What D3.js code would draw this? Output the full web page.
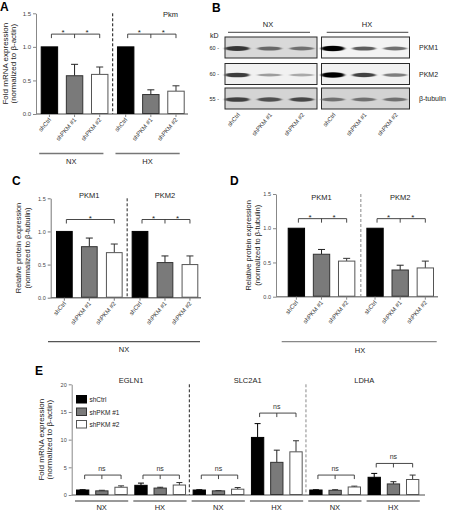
<!DOCTYPE html>
<html><head><meta charset="utf-8">
<script src="https://cdn.jsdelivr.net/npm/d3@7"></script>
<style>body{margin:0;background:#fff}svg{display:block}</style>
</head><body><svg id="c" width="450" height="512"></svg>
<script>
// ---------- DATA ----------
const conditions = ["shCtrl", "shPKM #1", "shPKM #2"];

// Panel A: Pkm mRNA
const aGroups = ["NX", "HX"];
const aMean = [[1.0, 0.57, 0.59], [1.0, 0.29, 0.34]];
const aErr  = [[0, 0.17, 0.11], [0, 0.07, 0.08]];
const aTicks = [0, 0.5, 1.0, 1.5];
const aSig = [{level: 1.19, type: "pair", text: "*"}, {level: 1.19, type: "pair", text: "*"}];

// Panel B: western blot band intensities (lanes shCtrl, shPKM #1, shPKM #2)
const blotRows = ["PKM1", "PKM2", "β-tubulin"];
const blotKD = ["60 -", "60 -", "55 -"];
const blotNX = [[0.75, 0.5, 0.45], [0.72, 0.22, 0.16], [0.7, 0.62, 0.66]];
const blotHX = [[1.0, 0.55, 0.45], [1.0, 0.68, 0.38], [0.45, 0.45, 0.45]];

// Panel C: protein NX
const cGroups = ["PKM1", "PKM2"];
const cMean = [[1.0, 0.77, 0.68], [1.0, 0.53, 0.50]];
const cErr  = [[0, 0.13, 0.13], [0, 0.10, 0.13]];
const cTicks = [0, 0.5, 1.0, 1.5];
const cSig = [{level: 1.18, type: "span", text: "*"}, {level: 1.18, type: "pair", text: "*"}];

// Panel D: protein HX
const dGroups = ["PKM1", "PKM2"];
const dMean = [[1.0, 0.62, 0.52], [1.0, 0.39, 0.42]];
const dErr  = [[0, 0.07, 0.04], [0, 0.07, 0.10]];
const dTicks = [0, 0.5, 1.0, 1.5];
const dSig = [{level: 1.14, type: "pair", text: "*"}, {level: 1.14, type: "pair", text: "*"}];

// Panel E: target genes mRNA
const eGenes = ["EGLN1", "SLC2A1", "LDHA"];
const eConds = ["NX", "HX"];
const eMean = [[0.9, 0.75, 1.4], [1.75, 1.25, 1.8], [0.9, 0.75, 1.05],
               [10.4, 5.9, 7.8], [0.9, 0.85, 1.45], [3.2, 2.0, 2.8]];
const eErr  = [[0.05, 0.1, 0.25], [0.4, 0.15, 0.45], [0.05, 0.05, 0.3],
               [2.5, 2.2, 2.0], [0.05, 0.1, 0.15], [0.7, 0.4, 0.8]];
const eTicks = [0, 5, 10, 15, 20];
const eSig = [3.6, 3.6, 3.6, 14.8, 3.6, 5.7];

// ---------- STYLE ----------
const FONT = '"Liberation Sans", Arial, Helvetica, sans-serif';
const fills = ["#000000", "#7a7a7a", "#ffffff"];
const strokes = ["#000000", "#333333", "#555555"];
const errCol = ["#000000", "#222222", "#333333"];

const svg = d3.select("#c");
svg.append("rect").attr("width", 450).attr("height", 512).attr("fill", "#fff");
const defs = svg.append("defs");
defs.append("filter").attr("id", "blur").attr("x", "-30%").attr("y", "-100%").attr("width", "160%").attr("height", "300%")
  .append("feGaussianBlur").attr("stdDeviation", "1.6 0.7");

function txt(s, x, y, size, opts = {}) {
  const t = svg.append("text").attr("x", x).attr("y", y).text(s)
    .attr("font-family", FONT).attr("font-size", size).attr("fill", opts.fill || "#222")
    .attr("text-anchor", opts.anchor || "start");
  if (opts.bold) t.attr("font-weight", "bold");
  if (opts.rotate !== undefined) t.attr("transform", `rotate(${opts.rotate},${x},${y})`);
  return t;
}

function barPanel(c) {
  const g = svg.append("g");
  const y = d3.scaleLinear().domain([0, c.max]).range([c.yb, c.yt]);
  const xo = d3.scaleBand().domain(c.groups).range(c.gRange).paddingInner(c.gPad);
  const xi = d3.scaleBand().domain(conditions).range([0, xo.bandwidth()]).paddingInner(c.bPad);
  const ax = g.append("g").attr("transform", `translate(${c.ax},0)`)
    .call(d3.axisLeft(y).tickValues(c.ticks).tickFormat(c.fmt).tickSize(3).tickPadding(2).tickSizeOuter(0));
  ax.select(".domain").attr("stroke", c.axisColor).attr("stroke-width", 1);
  ax.selectAll(".tick line").attr("stroke", c.axisColor);
  ax.selectAll(".tick text").attr("font-size", c.tickFont).attr("fill", "#444").attr("font-family", FONT);
  g.append("line").attr("x1", c.ax).attr("x2", c.axEnd).attr("y1", y(0)).attr("y2", y(0))
    .attr("stroke", c.axisColor).attr("stroke-width", 1.5);

  const centers = [];
  c.groups.forEach((grp, gi) => {
    const gx = xo(grp);
    const cs = [];
    conditions.forEach((cond, ci) => {
      const bw = xi.bandwidth(), bx = gx + xi(cond), v = c.means[gi][ci], e = c.errs[gi][ci];
      const cx = bx + bw / 2;
      cs.push(cx);
      if (e > 0) {
        g.append("line").attr("x1", cx).attr("x2", cx).attr("y1", y(v)).attr("y2", y(v + e))
          .attr("stroke", errCol[ci]).attr("stroke-width", 1);
        g.append("line").attr("x1", cx - c.cap).attr("x2", cx + c.cap).attr("y1", y(v + e)).attr("y2", y(v + e))
          .attr("stroke", errCol[ci]).attr("stroke-width", 1);
      }
      g.append("rect").attr("x", bx + 0.5).attr("y", y(v)).attr("width", bw - 1).attr("height", y(0) - y(v) - 0.5)
        .attr("fill", fills[ci]).attr("stroke", strokes[ci]).attr("stroke-width", 1);
      if (c.xticks) g.append("line").attr("x1", cx).attr("x2", cx).attr("y1", y(0)).attr("y2", y(0) + 3)
        .attr("stroke", c.axisColor).attr("stroke-width", 1);
      if (c.xlabels) txt(cond, cx + 2, y(0) + 6, c.xFont, {anchor: "end", rotate: -50, fill: "#333"});
    });
    centers.push(cs);
    // significance bracket
    const s = c.sig[gi];
    const by = y(s.level), x1 = cs[0] + 2, x2 = cs[2], xm = cs[1];
    const br = g.append("path").attr("fill", "none").attr("stroke", "#333").attr("stroke-width", 0.9);
    if (s.type === "span") {
      br.attr("d", `M${x1},${by + 4}V${by}H${x2}V${by + 4}`);
      txt(s.text, (x1 + x2) / 2, by + 1, c.starFont, {anchor: "middle"});
    } else {
      br.attr("d", `M${x1},${by + 4}V${by}H${x2}V${by + 4}M${xm},${by}V${by + 4}`);
      if (s.type === "pair") {
        txt(s.text, (x1 + xm) / 2, by + 1, c.starFont, {anchor: "middle"});
        txt(s.text, (xm + x2) / 2, by + 1, c.starFont, {anchor: "middle"});
      } else {
        txt(s.text, xm, by - 4, c.nsFont, {anchor: "middle", fill: "#333"});
      }
    }
    if (c.groupLine) {
      const [l0, l1] = c.groupLine(gx, xo.bandwidth());
      g.append("line").attr("x1", l0).attr("x2", l1).attr("y1", c.glY).attr("y2", c.glY)
        .attr("stroke", "#777").attr("stroke-width", 1.3);
      txt(c.groupNames[gi], (l0 + l1) / 2, c.glY + c.glOff, 7.5, {anchor: "middle"});
    }
  });
  // dividers
  (c.dividers || []).forEach(d => {
    const xl = (xo(c.groups[d.after]) + xo.bandwidth() + xo(c.groups[d.after + 1])) / 2;
    g.append("line").attr("x1", xl).attr("x2", xl).attr("y1", y(c.max)).attr("y2", y(0))
      .attr("stroke", d.color).attr("stroke-width", 1).attr("stroke-dasharray", "3,2");
  });
  // y label
  const my = (c.yb + c.yt) / 2;
  txt(c.ylab[0], c.ylx[0], my, c.ylFont, {anchor: "middle", rotate: -90});
  txt(c.ylab[1], c.ylx[1], my, c.ylFont, {anchor: "middle", rotate: -90});
  return {y, xo, xi, centers};
}

// ---------- PANEL A ----------
const A = barPanel({
  max: 1.5, yb: 114, yt: 13.3, ticks: aTicks, fmt: d3.format(".1f"),
  groups: aGroups, means: aMean, errs: aErr, sig: aSig,
  gRange: [40.7, 184.7], gPad: 0.112, bPad: 0.307,
  ax: 36, axEnd: 188, axisColor: "#888", tickFont: 6, xFont: 6, starFont: 8, cap: 3.5,
  xticks: true, xlabels: true,
  dividers: [{after: 0, color: "#111"}],
  groupLine: (gx, bw) => [gx - 1.5, gx + bw - 5], glY: 153.5, glOff: 10, groupNames: aGroups,
  ylab: ["Fold mRNA expression", "(normalized to β-actin)"], ylx: [8.5, 16.5], ylFont: 8
});
txt("A", 0, 11, 12, {bold: true, fill: "#000"});
txt("Pkm", 163, 17, 7.5);

// ---------- PANEL B ----------
txt("B", 212, 12, 12, {bold: true, fill: "#000"});
txt("kD", 210, 38, 7);
const rowY = [[37, 58], [63.5, 84.5], [88, 109]];
const bgNX = ["#d9d9d9", "#f1f1f1", "#d4d4d4"];
const bgHX = ["#f3f3f3", "#f1f1f1", "#d3d3d3"];
function blot(x0, x1, vals, bgs, lane0, lane1) {
  const lx = d3.scaleBand().domain(conditions).range([lane0, lane1]).paddingInner(0.3);
  const col = d3.scaleLinear().domain([0, 1]).range(["#c8c8c8", "#050505"]);
  blotRows.forEach((r, ri) => {
    const [ya, yb] = rowY[ri];
    svg.append("rect").attr("x", x0).attr("y", ya).attr("width", x1 - x0).attr("height", yb - ya)
      .attr("fill", bgs[ri]).attr("stroke", "#2a2a2a").attr("stroke-width", 1);
    conditions.forEach((cnd, ci) => {
      const v = vals[ri][ci];
      svg.append("ellipse").attr("cx", lx(cnd) + lx.bandwidth() / 2).attr("cy", (ya + yb) / 2 + 1)
        .attr("rx", lx.bandwidth() / 2 + 1).attr("ry", 1.2 + 1.6 * v)
        .attr("fill", col(v)).attr("filter", "url(#blur)");
    });
  });
  conditions.forEach(cnd => {
    txt(cnd, lx(cnd) + lx.bandwidth() / 2 + 3, 115, 6, {anchor: "end", rotate: -50, fill: "#333"});
  });
}
blot(225, 317, blotNX, bgNX, 226, 313);
blot(321.5, 409.5, blotHX, bgHX, 322, 406);
blotKD.forEach((k, i) => txt(k, 219, (rowY[i][0] + rowY[i][1]) / 2 + 2, 5.5, {anchor: "end"}));
blotRows.forEach((r, i) => txt(r, 419, (rowY[i][0] + rowY[i][1]) / 2 + 2.5, 7));
svg.append("line").attr("x1", 228).attr("x2", 310).attr("y1", 32.3).attr("y2", 32.3).attr("stroke", "#444").attr("stroke-width", 1);
svg.append("line").attr("x1", 326.7).attr("x2", 408.3).attr("y1", 32.3).attr("y2", 32.3).attr("stroke", "#444").attr("stroke-width", 1);
txt("NX", 268, 27, 7.5, {anchor: "middle"});
txt("HX", 367, 27, 7.5, {anchor: "middle"});

// ---------- PANEL C ----------
const C = barPanel({
  max: 1.5, yb: 297.7, yt: 198.3, ticks: cTicks, fmt: d3.format(".1f"),
  groups: cGroups, means: cMean, errs: cErr, sig: cSig,
  gRange: [56, 198.3], gPad: 0.119, bPad: 0.33,
  ax: 50.7, axEnd: 201, axisColor: "#777", tickFont: 5.5, xFont: 6, starFont: 8, cap: 3.5,
  xticks: true, xlabels: true,
  dividers: [{after: 0, color: "#222"}],
  ylab: ["Relative protein expression", "(normalized to β-tubulin)"], ylx: [20.5, 30], ylFont: 7.5
});
txt("C", 12, 185, 12, {bold: true, fill: "#000"});
cGroups.forEach((gname) => txt(gname, C.xo(gname) + C.xo.bandwidth() / 2, 197.5, 7.5, {anchor: "middle"}));
svg.append("line").attr("x1", 48).attr("x2", 200).attr("y1", 341.7).attr("y2", 341.7).attr("stroke", "#555").attr("stroke-width", 1.2);
txt("NX", 124, 352, 7.5, {anchor: "middle"});

// ---------- PANEL D ----------
const D = barPanel({
  max: 1.5, yb: 296.7, yt: 194, ticks: dTicks, fmt: d3.format(".1f"),
  groups: dGroups, means: dMean, errs: dErr, sig: dSig,
  gRange: [287.7, 434], gPad: 0.14, bPad: 0.31,
  ax: 276, axEnd: 438, axisColor: "#888", tickFont: 5.5, xFont: 6, starFont: 8, cap: 3.5,
  xticks: true, xlabels: true,
  dividers: [{after: 0, color: "#888"}],
  ylab: ["Relative protein expression", "(normalized to β-tubulin)"], ylx: [251.5, 260], ylFont: 7.5
});
txt("D", 230, 185, 12, {bold: true, fill: "#000"});
dGroups.forEach((gname) => txt(gname, D.xo(gname) + D.xo.bandwidth() / 2, 200, 7.5, {anchor: "middle"}));
svg.append("line").attr("x1", 281.7).attr("x2", 436.7).attr("y1", 341.7).attr("y2", 341.7).attr("stroke", "#888").attr("stroke-width", 1.2);
txt("HX", 360, 352.5, 7.5, {anchor: "middle"});

// ---------- PANEL E ----------
const eKeys = [];
eGenes.forEach(gn => eConds.forEach(cd => eKeys.push(gn + "|" + cd)));
const eGroupNames = eKeys.map(k => k.split("|")[1]);
const E = barPanel({
  max: 20, yb: 495, yt: 384.3, ticks: eTicks, fmt: d3.format("d"),
  groups: eKeys, means: eMean, errs: eErr,
  sig: eSig.map(l => ({level: l, type: "ns", text: "ns"})),
  gRange: [76, 419.3], gPad: 0.113, bPad: 0.307,
  ax: 71.7, axEnd: 425, axisColor: "#888", tickFont: 5.5, xFont: 6, starFont: 8, nsFont: 7, cap: 3,
  xticks: false, xlabels: false,
  dividers: [{after: 1, color: "#222"}, {after: 3, color: "#888"}],
  groupLine: (gx, bw) => [gx - 1, gx + bw + 0.5], glY: 501, glOff: 8.8, groupNames: eGroupNames,
  ylab: ["Fold mRNA expression", "(normalized to β-actin)"], ylx: [44, 52.5], ylFont: 8
});
txt("E", 35, 375, 12, {bold: true, fill: "#000"});
eGenes.forEach((gn, i) => {
  const k0 = gn + "|NX", k1 = gn + "|HX";
  const cx = (E.xo(k0) + E.xo(k1) + E.xo.bandwidth()) / 2;
  txt(gn, cx, 383, 7.5, {anchor: "middle"});
});
// legend
conditions.forEach((cnd, i) => {
  svg.append("rect").attr("x", 76.5).attr("y", 395.5 + i * 12.5).attr("width", 10).attr("height", 7.5)
    .attr("fill", fills[i]).attr("stroke", strokes[i]).attr("stroke-width", 1);
  txt(cnd, 89.5, 402 + i * 12.5, 6.5);
});
</script></body></html>
